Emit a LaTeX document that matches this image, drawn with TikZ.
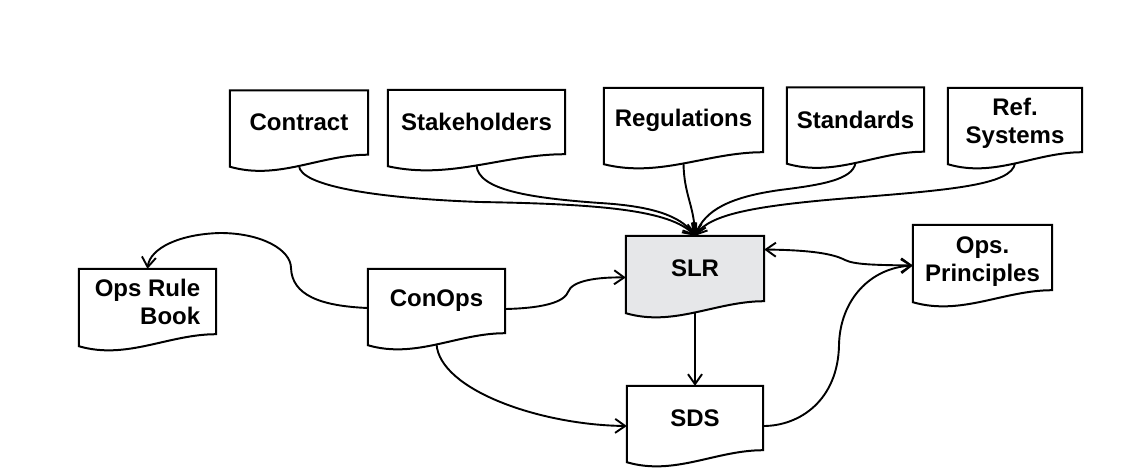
\documentclass[tikz,border=0pt]{standalone}
\usepackage{fontspec}
\setmainfont{Liberation Sans}
\usetikzlibrary{arrows.meta,calc,backgrounds}
\definecolor{slrfill}{RGB}{230,231,233}
\newcommand\docout[2][white]{%
  \draw[docline, fill=#1] (#2.north west) -- (#2.north east) -- (#2.south east)
    .. controls ($(#2.south west)!0.65!(#2.south east)$) and ($(#2.south west)!0.35!(#2.south east)+(0,26)$)
    .. ($(#2.south west)+(0,12)$) -- cycle;
  \coordinate (#2-b) at ($(#2.south)+(0,11)$);
}
\begin{document}
\begin{tikzpicture}[x=1pt,y=-1pt,
  >={Straight Barb[length=10pt,width=14pt]},
  doc/.style={inner sep=0pt, minimum height=64pt, font=\fontsize{24}{28}\selectfont\bfseries, align=center},
  docline/.style={line width=2pt, line join=miter},
  conn/.style={line width=1.9pt, ->},
]
\useasboundingbox (0,0) rectangle (1145,467);

% documents
\node[doc, minimum width=138pt] (contract) at (299,122.5) {Contract};
\node[doc, minimum width=177pt] (stake) at (476.5,122) {Stakeholders};
\node[doc, minimum width=159pt] (reg) at (683.5,120) {Regulations};
\node[doc, minimum width=137pt] (std) at (855.5,119.5) {Standards};
\node[doc, minimum width=134pt] (ref) at (1015,120) {\rule{0pt}{24pt}Ref.\\Systems};
\node[doc, minimum width=138pt, minimum height=65pt] (slr) at (695,268.5) {SLR};
\node[doc, minimum width=136pt] (sds) at (695,418) {SDS};
\node[doc, minimum width=139pt, minimum height=65pt] (opsp) at (982.5,257.5) {\rule{0pt}{24pt}Ops.\\Principles};
\node[doc, minimum width=137pt, minimum height=65pt, align=right] (orb) at (147.5,301.5) {Ops Rule\\Book};
\node[doc, minimum width=137pt] (conops) at (436.5,301) {ConOps};

\begin{scope}[on background layer]
  \docout{contract}
  \docout{stake}
  \docout{reg}
  \docout{std}
  \docout{ref}
  \docout[slrfill]{slr}
  \docout{sds}
  \docout{opsp}
  \docout{orb}
  \docout{conops}
\end{scope}

% inputs to SLR
\draw[conn] (contract-b) .. controls (300,185) and (370,198) .. (480,202)
  .. controls (600,204) and (670,210) .. (slr.north);
\draw[conn] (stake-b) .. controls (478,190) and (530,198) .. (600,203)
  .. controls (650,206) and (680,215) .. (slr.north);
\draw[conn] (reg-b) .. controls (684,195) and (694,205) .. (slr.north);
\draw[conn] (std-b) .. controls (853,180) and (820,185) .. (780,190)
  .. controls (730,197) and (705,210) .. (slr.north);
\draw[conn] (ref-b) .. controls (1012,185) and (950,190) .. (850,198)
  .. controls (750,206) and (710,215) .. (slr.north);

% ConOps connectors
\draw[conn] ($(conops.west)+(0,7)$) .. controls (320,306) and (292,295) .. (291,268)
  .. controls (291,250) and (262,233) .. (220,233)
  .. controls (180,234) and (150,248) .. (orb.north);
\draw[conn] ($(conops.east)+(0,8)$) .. controls (550,308) and (565,300) .. (568,292)
  .. controls (572,280) and (600,277) .. ($(slr.west)+(0,9)$);
\draw[conn] (conops-b) .. controls (440,390) and (540,425) .. ($(sds.west)+(0,8)$);

% SLR to SDS
\draw[conn] (slr-b) -- (sds.north);

% SLR <-> Ops. Principles
\draw[conn, <->] ($(slr.east)+(0,-19)$) .. controls (800,250) and (830,252) .. (845,260)
  .. controls (855,265) and (880,265) .. ($(opsp.west)+(0,8)$);

% SDS -> Ops. Principles
\draw[conn] ($(sds.east)+(0,8)$) .. controls (800,426) and (838,400) .. (839,345)
  .. controls (840,300) and (870,268) .. ($(opsp.west)+(0,8)$);
\end{tikzpicture}
\end{document}
